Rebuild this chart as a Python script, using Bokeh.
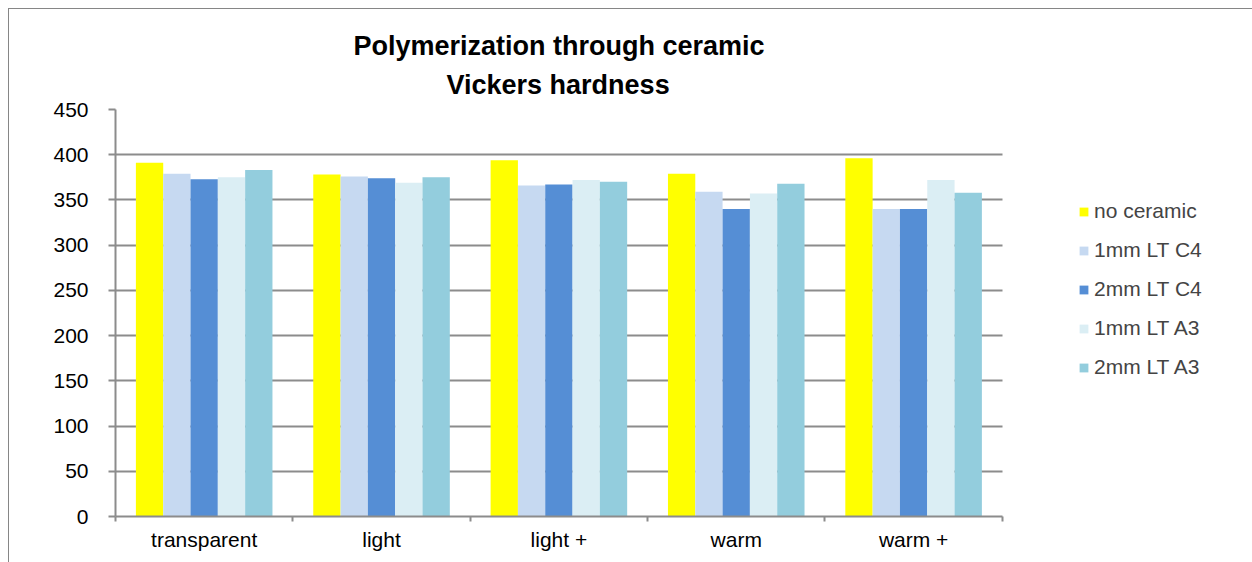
from bokeh.plotting import figure
from bokeh.models import (Range1d, FixedTicker, Legend, LegendItem, ColumnDataSource, Title)
from bokeh.embed import file_html
from bokeh.resources import INLINE

categories = ["transparent", "light", "light +", "warm", "warm +"]
series_names = ["no ceramic", "1mm LT C4", "2mm LT C4", "1mm LT A3", "2mm LT A3"]
no_ceramic = [391, 378, 394, 379, 396]
lt_c4_1mm = [379, 376, 366, 359, 340]
lt_c4_2mm = [373, 374, 367, 340, 340]
lt_a3_1mm = [375, 369, 372, 357, 372]
lt_a3_2mm = [383, 375, 370, 368, 358]
colors = ["#FFFF00", "#C6D9F1", "#558ED5", "#DBEEF4", "#93CDDD"]
y_ticks = [0, 50, 100, 150, 200, 250, 300, 350, 400, 450]
title_lines = ["Polymerization through ceramic", "Vickers hardness"]

series = [no_ceramic, lt_c4_1mm, lt_c4_2mm, lt_a3_1mm, lt_a3_2mm]
FONT = "Liberation Sans"
GRID = "#8c8c8c"
n = len(categories)

# frame extends to the right edge; plotted categories occupy 886 of 1137 px
p = figure(width=1244, height=554, output_backend="svg", toolbar_location=None,
           x_range=Range1d(0, n * 1137 / 886), y_range=Range1d(0, 450),
           min_border_left=106, min_border_right=0, min_border_top=100, min_border_bottom=47,
           margin=(8, 0, 0, 8))
p.styles = {"border-left": "1px solid #868686", "border-top": "1px solid #868686"}
p.outline_line_color = None

t2 = Title(text=title_lines[1], align="left", offset=331, text_font=FONT, text_font_size="27px",
           text_font_style="bold", text_color="black", standoff=20)
t1 = Title(text=title_lines[0], align="left", offset=238, text_font=FONT, text_font_size="27px",
           text_font_style="bold", text_color="black", standoff=-7)
p.add_layout(t2, "above")
p.add_layout(t1, "above")

bw = 0.154
items = []
for j, (name, vals, col) in enumerate(zip(series_names, series, colors)):
    xs = [i + 0.5 + (j - 2) * bw for i in range(n)]
    src = ColumnDataSource(dict(x=xs, top=vals))
    r = p.vbar(x="x", top="top", width=bw, source=src, fill_color=col, line_color=None)
    items.append(LegendItem(label=name, renderers=[r]))

p.xgrid.visible = False
p.ygrid.ticker = FixedTicker(ticks=y_ticks)
p.ygrid.grid_line_color = GRID
p.ygrid.grid_line_width = 2
p.ygrid.cross_bounds = (0, n)

p.yaxis.ticker = FixedTicker(ticks=y_ticks)
p.yaxis.axis_line_color = GRID
p.yaxis.axis_line_width = 2
p.yaxis.major_tick_line_color = GRID
p.yaxis.major_tick_line_width = 2
p.yaxis.major_tick_out = 7
p.yaxis.major_tick_in = 0
p.yaxis.minor_tick_line_color = None
p.yaxis.major_label_text_font = FONT
p.yaxis.major_label_text_font_size = "21px"
p.yaxis.major_label_text_color = "black"
p.yaxis.major_label_standoff = 20

centers = [i + 0.5 for i in range(n)]
p.xaxis.ticker = FixedTicker(ticks=centers, minor_ticks=list(range(n + 1)))
p.xaxis.major_label_overrides = {c: lab for c, lab in zip(centers, categories)}
p.xaxis.bounds = (0, n)
p.xaxis.axis_line_color = GRID
p.xaxis.axis_line_width = 2
p.xaxis.major_tick_line_color = None
p.xaxis.major_tick_out = 0
p.xaxis.major_tick_in = 0
p.xaxis.minor_tick_line_color = GRID
p.xaxis.minor_tick_line_width = 2
p.xaxis.minor_tick_out = 5
p.xaxis.minor_tick_in = 0
p.xaxis.major_label_text_font = FONT
p.xaxis.major_label_text_font_size = "21px"
p.xaxis.major_label_text_color = "black"
p.xaxis.major_label_standoff = 6

legend = Legend(items=items, location=(963, 137), orientation="vertical")
legend.border_line_color = None
legend.background_fill_alpha = 0
legend.glyph_width = 11
legend.glyph_height = 11
legend.label_standoff = 5
legend.label_text_font = FONT
legend.label_text_font_size = "21px"
legend.label_height = 20
legend.spacing = 15
legend.padding = 10
legend.margin = 0
p.add_layout(legend, "center")

open("out.html", "w").write(file_html(p, INLINE))
